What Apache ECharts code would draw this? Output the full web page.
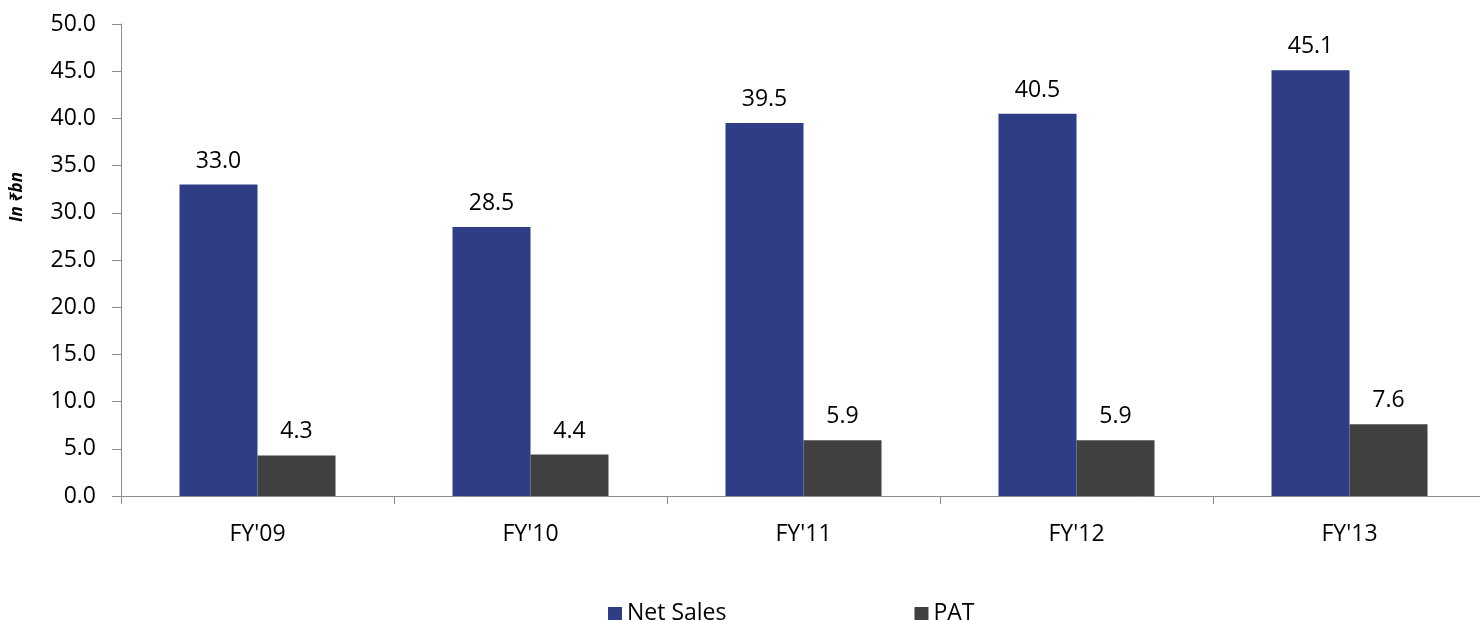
<!DOCTYPE html>
<html><head><meta charset="utf-8">
<script src="https://cdn.jsdelivr.net/npm/echarts@6/dist/echarts.min.js"></script>
<style>html,body{margin:0;padding:0;background:#fff}#c{width:1480px;height:620px}</style>
</head><body><div id="c"></div>
<script>
const categories = ["FY'09","FY'10","FY'11","FY'12","FY'13"];
const netSales = [33.0, 28.5, 39.5, 40.5, 45.1];
const pat = [4.3, 4.4, 5.9, 5.9, 7.6];
const seriesNames = ["Net Sales","PAT"];
const yAxisTitle = "In ₹bn";

const FONT = "'Open Sans', 'Noto Sans', sans-serif";
const FS = 23;
const chart = echarts.init(document.getElementById('c'), null, {renderer:'canvas'});
const labelCfg = {show:true, position:'top', distance:12, color:'#000', fontSize:FS, fontFamily:FONT,
  formatter: p => p.value.toFixed(1)};
chart.setOption({
  animation:false,
  textStyle:{fontFamily:FONT},
  grid:{left:121, top:24, width:1365, height:472, containLabel:false, outerBoundsMode:'none'},
  legend:{top:597, left:603, itemWidth:14, itemHeight:13, itemGap:188, icon:'rect',
    textStyle:{fontSize:FS, color:'#000', fontFamily:FONT}, data:seriesNames},
  xAxis:{type:'category', data:categories,
    axisLine:{lineStyle:{color:'#8c8c8c', width:1}},
    axisTick:{show:true, length:8, lineStyle:{color:'#8c8c8c'}},
    axisLabel:{color:'#000', fontSize:FS, margin:27, fontFamily:FONT}},
  yAxis:{type:'value', min:0, max:50, interval:5,
    name:yAxisTitle, nameLocation:'middle', nameGap:95, nameRotate:90,
    nameTextStyle:{fontSize:17, fontWeight:'bold', fontStyle:'italic', color:'#000', fontFamily:FONT,
      padding:[0,0,0,126]},
    splitLine:{show:false},
    axisLine:{show:true, lineStyle:{color:'#8c8c8c', width:1}},
    axisTick:{show:true, length:9, lineStyle:{color:'#8c8c8c'}},
    axisLabel:{color:'#000', fontSize:FS, margin:25, fontFamily:FONT, formatter:v=>v.toFixed(1)}},
  series:[
    {name:seriesNames[0], type:'bar', data:netSales, barWidth:78, barGap:'0%',
      itemStyle:{color:'#2E3D86'}, label:labelCfg},
    {name:seriesNames[1], type:'bar', data:pat, barWidth:78, barGap:'0%',
      itemStyle:{color:'#404040'}, label:labelCfg}
  ]
});
</script></body></html>
